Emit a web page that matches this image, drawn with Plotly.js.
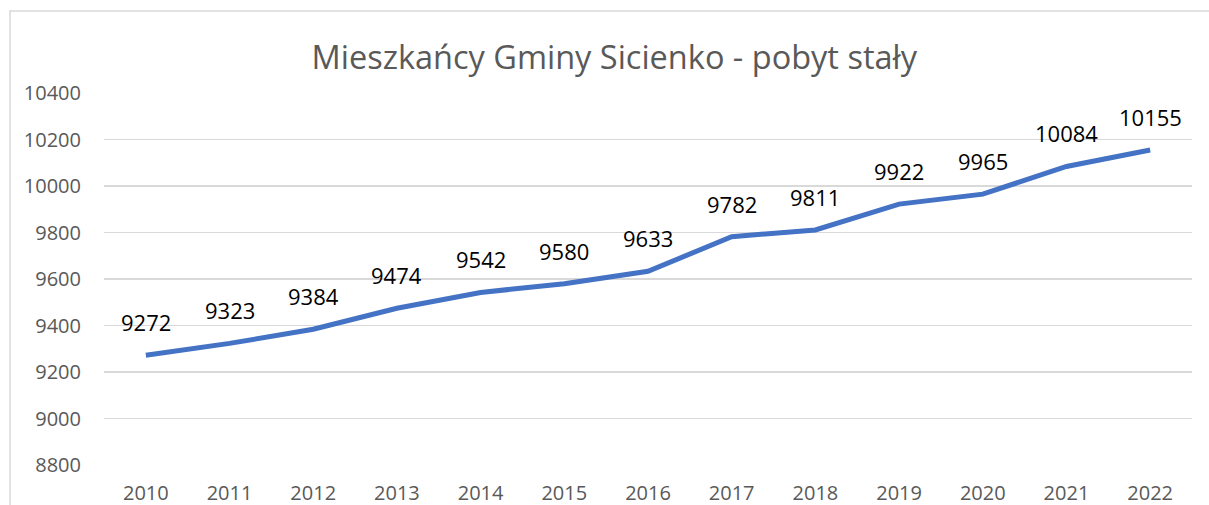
<!DOCTYPE html>
<html><head><meta charset="utf-8">
<script src="https://cdn.plot.ly/plotly-3.0.1.min.js"></script>
<style>html,body{margin:0;padding:0;background:#fff;}#chart{width:1209px;height:505px;}</style>
</head><body><div id="chart"></div>
<script>
const years = ['2010','2011','2012','2013','2014','2015','2016','2017','2018','2019','2020','2021','2022'];
const residents = [9272,9323,9384,9474,9542,9580,9633,9782,9811,9922,9965,10084,10155];
const yTicks = [8800,9000,9200,9400,9600,9800,10000,10200,10400];
const titleText = 'Mieszkańcy Gminy Sicienko - pobyt stały';

const FONT = 'Open Sans, Liberation Sans, sans-serif';
const trace = {
  x: years, y: residents, type: 'scatter', mode: 'lines',
  line: {color: '#4472C4', width: 5}, hoverinfo: 'skip'
};
const annotations = years.map((yr, i) => ({
  x: i, y: residents[i], xref: 'x', yref: 'y', text: String(residents[i]),
  showarrow: false, yshift: 33, font: {family: FONT, size: 22, color: '#000000'}
}));
const layout = {
  width: 1209, height: 505,
  margin: {l: 104, r: 17, t: 93, b: 40},
  paper_bgcolor: 'rgba(0,0,0,0)', plot_bgcolor: '#fff',
  title: {text: titleText, xref: 'paper', x: 0.469, xanchor: 'center', y: 0.885, yanchor: 'middle',
          font: {family: FONT, size: 32.5, color: '#595959'}},
  showlegend: false,
  xaxis: {type: 'category', range: [-0.5, 12.5], showgrid: false, zeroline: false,
          showline: false, ticks: '', ticklabelstandoff: 14,
          tickfont: {family: FONT, size: 20, color: '#595959'}, fixedrange: true},
  yaxis: {range: [8800, 10400], tickvals: yTicks, ticktext: yTicks.map(String),
          showgrid: true, gridcolor: '#d9d9d9', gridwidth: 1.5, zeroline: false,
          showline: false, ticks: '', ticklabelstandoff: 22,
          tickfont: {family: FONT, size: 20, color: '#595959'}, fixedrange: true},
  annotations: annotations,
  shapes: [{type: 'rect', xref: 'paper', yref: 'paper', x0: -0.0864, x1: 1.3, y0: -0.6, y1: 1.2204,
            line: {color: '#d9d9d9', width: 1.5}, fillcolor: 'rgba(0,0,0,0)', layer: 'below'}]
};
Plotly.newPlot('chart', [trace], layout, {staticPlot: true, displayModeBar: false});
</script></body></html>
